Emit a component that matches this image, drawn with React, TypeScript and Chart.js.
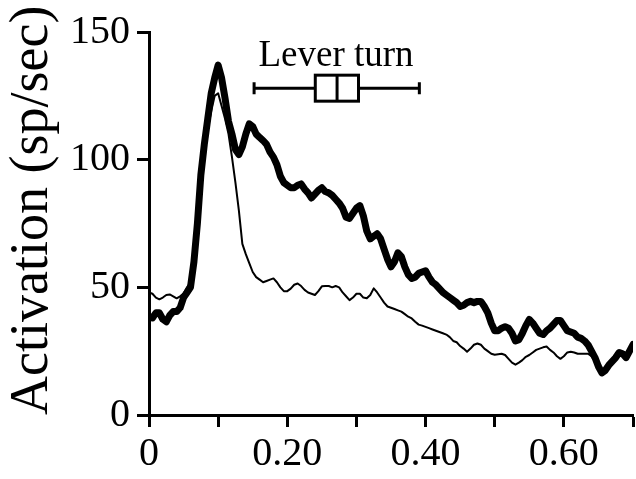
import React, { useEffect, useRef } from 'react';
import { Chart, registerables } from 'chart.js';

Chart.register(...registerables);

// Sampling interval of the traces (seconds)
const SAMPLE_STEP = 0.005;

// Thick trace (sp/sec), sampled every 0.005 s from 0 to 0.70
const thickRate = [
  38.5, 38, 40, 40, 37.5, 36.5, 39, 40.5, 40.5, 42,
  46, 48, 50, 60, 75, 94, 106, 116, 126, 132,
  137, 132, 124, 115, 110, 104, 102, 105, 110, 114,
  113, 110, 108.7, 107.5, 106, 103, 101, 98, 93.5, 91,
  90, 89, 89, 90, 90.5, 88.5, 87, 85, 86.5, 88,
  89, 87.5, 87, 86, 84.5, 83, 81, 77.5, 77, 79,
  81, 82, 78, 72, 69, 70, 71, 69, 65, 61,
  58, 60, 63.5, 62, 58, 55, 53.5, 54, 55.5, 56,
  56.5, 54, 52, 51, 49.5, 48, 47, 46, 45, 44,
  42.5, 43, 44, 44.5, 44, 44.5, 44.5, 42.5, 40, 36,
  33, 33, 34, 34.6, 34, 32, 29, 29.5, 32, 35,
  37.4, 36, 34, 32, 31.5, 33, 34, 35.5, 37, 37,
  35, 33, 32.5, 32, 30.5, 30, 29, 27.5, 25, 22.5,
  19, 16.5, 17.5, 19.5, 21, 22.5, 24.5, 24, 22.5, 25,
  27.6,
];

// Thin trace (sp/sec), sampled every 0.005 s from 0 to 0.65
const thinRate = [
  48, 47.5, 46, 45.3, 46, 47, 47.2, 46.5, 45.7, 46.5,
  47.6, 50, 52, 58, 72, 90, 103, 112, 119, 125,
  126, 121, 116, 110, 101, 91, 80, 67, 63, 59.5,
  56, 54, 53, 52, 52.5, 53, 53.5, 52, 50, 48.5,
  48.5, 49.5, 51, 51.5, 50.5, 49, 48, 47.5, 47, 48.5,
  50.4, 50.5, 50.5, 50, 50.5, 50, 48, 46.5, 45, 46,
  47.5, 47.5, 46, 45.7, 47, 49.6, 48, 46, 44, 42.5,
  42, 41.5, 41, 40.5, 39.5, 38.5, 37.8, 36.5, 35.4, 35,
  34.5, 34, 33.5, 33, 32.5, 32, 31.5, 30.5, 29, 28.5,
  27, 26, 24.8, 26, 27.5, 28, 27.5, 26, 25, 24,
  23.6, 23.8, 24, 23.5, 22, 20.5, 19.7, 20.5, 21.5, 22.8,
  23.5, 24.5, 25.5, 26, 26.5, 26.8, 25.5, 24.5, 23, 22,
  23, 24.5, 24.8, 24.5, 24, 24, 24, 24, 23, 21,
  19,
];

// Axis ticks
const xTickLabels = ['0', '', '0.20', '', '0.40', '', '0.60', ''];
const yTickValues = [0, 50, 100, 150];

// "Lever turn" box plot (time, s) and its level (sp/sec)
const leverLabel = 'Lever turn';
const leverWhisker = [0.152, 0.391];
const leverBox = [0.2405, 0.303];
const leverMedian = 0.272;
const leverLevel = 128;
const leverLabelX = 0.2705;

const FONT = '"Liberation Serif", "Times New Roman", serif';

const leverPlugin = {
  id: 'leverTurn',
  afterDatasetsDraw(chart: any) {
    const { ctx } = chart;
    const x = chart.scales.x;
    const y = chart.scales.y;
    const yc = y.getPixelForValue(leverLevel);
    const w0 = x.getPixelForValue(leverWhisker[0]);
    const w1 = x.getPixelForValue(leverWhisker[1]);
    const b0 = x.getPixelForValue(leverBox[0]);
    const b1 = x.getPixelForValue(leverBox[1]);
    const m = x.getPixelForValue(leverMedian);
    ctx.save();
    ctx.strokeStyle = '#000';
    ctx.lineWidth = 3;
    ctx.lineCap = 'butt';
    ctx.beginPath();
    ctx.moveTo(w0, yc);
    ctx.lineTo(b0, yc);
    ctx.moveTo(b1, yc);
    ctx.lineTo(w1, yc);
    ctx.moveTo(w0, yc - 6);
    ctx.lineTo(w0, yc + 6);
    ctx.moveTo(w1, yc - 6);
    ctx.lineTo(w1, yc + 6);
    ctx.stroke();
    ctx.fillStyle = '#fff';
    ctx.fillRect(b0, yc - 13, b1 - b0, 26);
    ctx.strokeRect(b0, yc - 13, b1 - b0, 26);
    ctx.beginPath();
    ctx.moveTo(m, yc - 13);
    ctx.lineTo(m, yc + 13);
    ctx.stroke();
    ctx.fillStyle = '#000';
    ctx.font = `37px ${FONT}`;
    ctx.textAlign = 'center';
    ctx.textBaseline = 'alphabetic';
    ctx.fillText(leverLabel, x.getPixelForValue(leverLabelX), yc - 22);
    ctx.restore();
  },
};

export default function App() {
  const canvasRef = useRef<HTMLCanvasElement | null>(null);

  useEffect(() => {
    const canvas = canvasRef.current;
    if (!canvas) return;
    const axisGrid = {
      display: true,
      drawOnChartArea: false,
      drawTicks: true,
      tickLength: 12,
      tickWidth: 3,
      tickColor: '#000',
    };
    const axisBorder = { display: true, width: 3, color: '#000' };
    const chart = new Chart(canvas, {
      type: 'line',
      data: {
        datasets: [
          {
            label: 'thick',
            data: thickRate.map((v, i) => ({ x: i * SAMPLE_STEP, y: v })),
            borderColor: '#000',
            borderWidth: 7,
            pointRadius: 0,
            tension: 0,
            borderJoinStyle: 'round',
            borderCapStyle: 'round',
            fill: false,
          },
          {
            label: 'thin',
            data: thinRate.map((v, i) => ({ x: i * SAMPLE_STEP, y: v })),
            borderColor: '#000',
            borderWidth: 2,
            pointRadius: 0,
            tension: 0,
            borderJoinStyle: 'round',
            fill: false,
          },
        ],
      },
      options: {
        responsive: false,
        animation: false,
        devicePixelRatio: 1,
        layout: { padding: { top: 32, right: 2, left: 0, bottom: 0 } },
        plugins: {
          legend: { display: false },
          tooltip: { enabled: false },
        },
        scales: {
          x: {
            type: 'linear',
            min: 0,
            max: 0.7,
            afterFit: (s: any) => {
              s.height = 64;
            },
            ticks: {
              stepSize: 0.1,
              autoSkip: false,
              maxRotation: 0,
              color: '#000',
              padding: 3,
              font: { family: FONT, size: 40 },
              callback: (_v: any, i: number) => xTickLabels[i] ?? '',
            },
            grid: axisGrid,
            border: axisBorder,
          },
          y: {
            type: 'linear',
            min: 0,
            max: 150,
            afterFit: (s: any) => {
              s.width = 149;
            },
            afterBuildTicks: (s: any) => {
              s.ticks = yTickValues.map((v) => ({ value: v }));
            },
            ticks: {
              color: '#000',
              padding: 7,
              font: { family: FONT, size: 40 },
            },
            grid: axisGrid,
            border: axisBorder,
            title: {
              display: true,
              text: 'Activation (sp/sec)',
              align: 'start',
              color: '#000',
              font: { family: FONT, size: 54 },
              padding: { top: 0, bottom: 0 },
            },
          },
        },
      },
      plugins: [leverPlugin],
    } as any);
    return () => chart.destroy();
  }, []);

  return (
    <div style={{ position: 'absolute', left: 0, top: 0, width: 636, height: 479, background: '#fff' }}>
      <canvas ref={canvasRef} width={636} height={479} style={{ display: 'block' }} />
    </div>
  );
}
